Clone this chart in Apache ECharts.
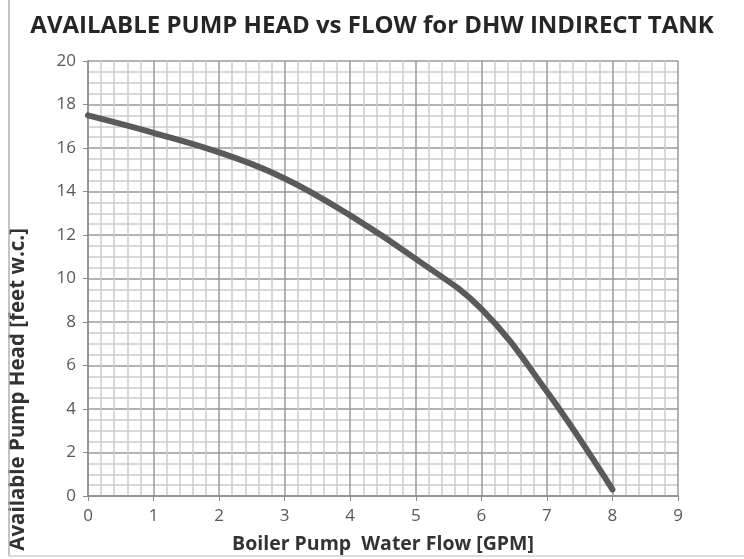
<!DOCTYPE html>
<html>
<head>
<meta charset="utf-8">
<script src="https://cdn.jsdelivr.net/npm/echarts@6/dist/echarts.min.js"></script>
<style>
  html, body { margin: 0; padding: 0; background: #fff; }
  #chart { width: 744px; height: 559px; }
</style>
</head>
<body>
<div id="chart"></div>
<script>
// pump curve
var flow = [0, 1, 2, 3, 4, 5, 6, 7, 8];
var head = [17.5, 16.7, 15.8, 14.6, 12.9, 10.9, 8.6, 4.8, 0.3];

var chart = echarts.init(document.getElementById('chart'));

var points = [];
for (var i = 0; i < flow.length; i++) {
    points.push([flow[i], head[i]]);
}

var font = '"Open Sans", sans-serif';

var option = {
    animation: false,
    title: {
        text: 'AVAILABLE PUMP HEAD vs FLOW for DHW INDIRECT TANK',
        left: 'center',
        top: 9,
        textStyle: { fontFamily: font, fontSize: 24, fontWeight: 'bold', color: '#262626' }
    },
    grid: { left: 88, right: 66, top: 61, bottom: 62 },
    xAxis: {
        type: 'value',
        min: 0,
        max: 9,
        interval: 1,
        name: 'Boiler Pump  Water Flow [GPM]',
        nameLocation: 'middle',
        nameGap: 38,
        nameTextStyle: { fontFamily: font, fontSize: 19.5, fontWeight: 'bold', color: '#333' },
        axisLine: { lineStyle: { color: '#8c8c8c', width: 1.5 } },
        axisTick: { show: true, length: 5, lineStyle: { color: '#8c8c8c' } },
        axisLabel: { fontFamily: font, fontSize: 17, color: '#595959', margin: 12 },
        splitLine: { lineStyle: { color: '#9a9a9a', width: 1.5 } },
        minorTick: { show: false, splitNumber: 5 },
        minorSplitLine: { show: true, lineStyle: { color: '#cdcdcd', width: 1.5 } }
    },
    yAxis: {
        type: 'value',
        min: 0,
        max: 20,
        interval: 2,
        axisLine: { show: true, lineStyle: { color: '#8c8c8c', width: 1.5 } },
        axisTick: { show: true, length: 5, lineStyle: { color: '#8c8c8c' } },
        axisLabel: { fontFamily: font, fontSize: 17, color: '#595959', margin: 12 },
        splitLine: { lineStyle: { color: '#9a9a9a', width: 1.5 } },
        minorTick: { show: false, splitNumber: 4 },
        minorSplitLine: { show: true, lineStyle: { color: '#cdcdcd', width: 1.5 } }
    },
    graphic: [
        {
            type: 'text',
            left: 8,
            top: 228,
            rotation: Math.PI / 2,
            originX: 0,
            originY: 0,
            style: {
                text: 'Available Pump Head [feet w.c.]',
                font: 'bold 20.5px ' + font,
                fill: '#333'
            }
        },
        {
            type: 'line',
            shape: { x1: 9, y1: 0, x2: 9, y2: 556 },
            style: { stroke: '#b0b0b0', lineWidth: 1.5 }
        },
        {
            type: 'line',
            shape: { x1: 9, y1: 556, x2: 744, y2: 556 },
            style: { stroke: '#d0d0d0', lineWidth: 1.5 }
        }
    ],
    series: [{
        type: 'line',
        data: points,
        smooth: 0.4,
        showSymbol: false,
        lineStyle: { color: '#5a5a5a', width: 6, cap: 'round' }
    }]
};

chart.setOption(option);
</script>
</body>
</html>
